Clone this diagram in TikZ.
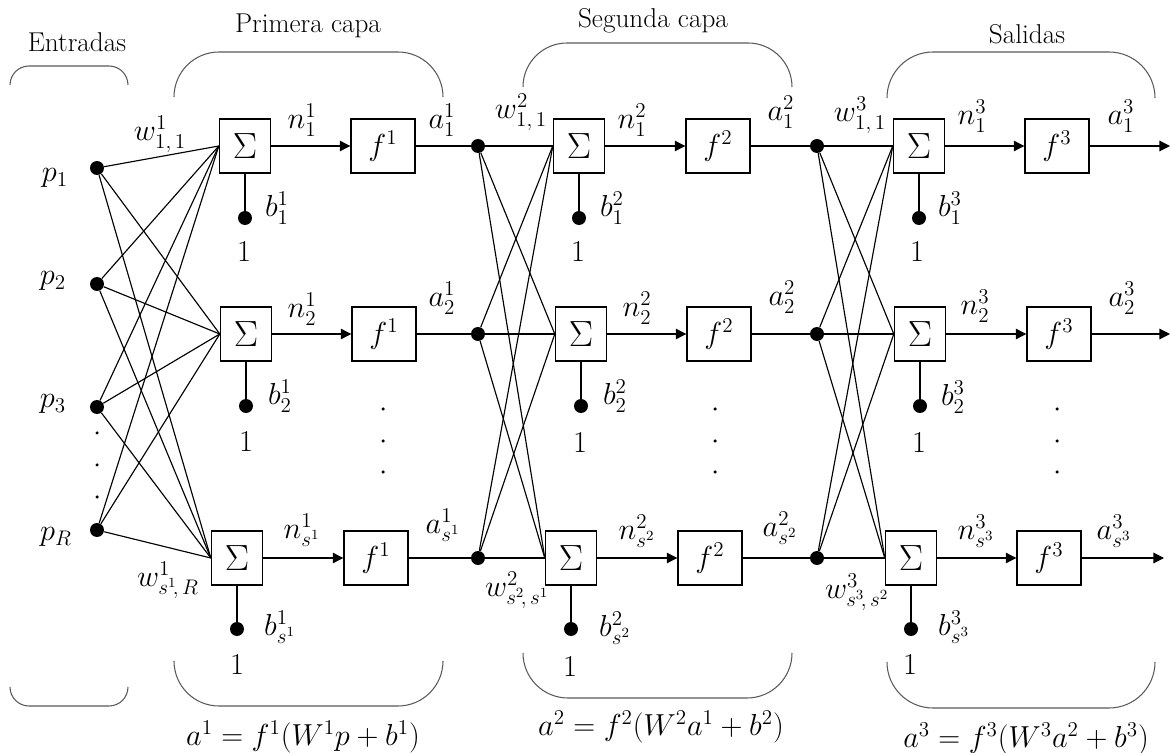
\documentclass[tikz,border=0pt]{standalone}
\usetikzlibrary{arrows.meta}
\begin{document}
\begin{tikzpicture}[x=0.02cm,y=-0.02cm,
 sumbox/.style={draw,line width=0.8pt,minimum width=1.02cm,minimum height=1.08cm,inner sep=0,font=\fontsize{21}{24}\selectfont},
 funcbox/.style={draw,line width=0.8pt,minimum width=1.28cm,minimum height=1.08cm,inner sep=0,font=\fontsize{17}{20}\selectfont},
 dot/.style={circle,fill=black,minimum size=0.28cm,inner sep=0},
 sdot/.style={circle,fill=black,minimum size=0.07cm,inner sep=0},
 lab/.style={inner sep=0,font=\fontsize{17}{20}\selectfont},
 ttl/.style={inner sep=0,font=\fontsize{15.5}{18}\selectfont},
 wire/.style={line width=0.65pt},
 arr/.style={line width=0.65pt,-{Triangle[length=6pt,width=6pt]}},
 brk/.style={draw=black!65,line width=0.6pt}]
\useasboundingbox (0,0) rectangle (1171,753);

% ---------- inputs
\node[dot] (P1) at (97,168) {};
\node[dot] (P2) at (97,284) {};
\node[dot] (P3) at (97,407) {};
\node[dot] (PR) at (97,530) {};
\node[sdot] (q1) at (97,433) {};
\node[sdot] (q2) at (97,465) {};
\node[sdot] (q3) at (97,497) {};

% ---------- layer 1
\node[sumbox] (S11) at (245,146) {$\Sigma$};
\node[sumbox] (S12) at (246,334) {$\Sigma$};
\node[sumbox] (S13) at (237,558) {$\Sigma$};
\node[funcbox] (F11) at (383,146) {$f^1$};
\node[funcbox] (F12) at (384,334) {$f^1$};
\node[funcbox] (F13) at (376,558) {$f^1$};
\node[dot] (B11) at (245,218) {};
\node[dot] (B12) at (246,406) {};
\node[dot] (B13) at (237,629) {};
\node[sdot] (e11) at (383,409) {};
\node[sdot] (e12) at (383,441) {};
\node[sdot] (e13) at (383,472) {};

% ---------- layer 2
\node[dot] (D21) at (478,146) {};
\node[dot] (D22) at (478,334) {};
\node[dot] (D23) at (478,558) {};
\node[sumbox] (S21) at (579,146) {$\Sigma$};
\node[sumbox] (S22) at (581,334) {$\Sigma$};
\node[sumbox] (S23) at (571,558) {$\Sigma$};
\node[funcbox] (F21) at (718,146) {$f^2$};
\node[funcbox] (F22) at (719,334) {$f^2$};
\node[funcbox] (F23) at (710,558) {$f^2$};
\node[dot] (B21) at (579,218) {};
\node[dot] (B22) at (581,406) {};
\node[dot] (B23) at (571,629) {};
\node[sdot] (e21) at (715,409) {};
\node[sdot] (e22) at (715,441) {};
\node[sdot] (e23) at (715,472) {};

% ---------- layer 3
\node[dot] (D31) at (817,146) {};
\node[dot] (D32) at (817,334) {};
\node[dot] (D33) at (817,558) {};
\node[sumbox] (S31) at (919,146) {$\Sigma$};
\node[sumbox] (S32) at (920,334) {$\Sigma$};
\node[sumbox] (S33) at (911,558) {$\Sigma$};
\node[funcbox] (F31) at (1057,146) {$f^3$};
\node[funcbox] (F32) at (1059,334) {$f^3$};
\node[funcbox] (F33) at (1049,558) {$f^3$};
\node[dot] (B31) at (919,218) {};
\node[dot] (B32) at (920,406) {};
\node[dot] (B33) at (911,629) {};
\node[sdot] (e31) at (1057,409) {};
\node[sdot] (e32) at (1057,441) {};
\node[sdot] (e33) at (1057,472) {};
\coordinate (O1) at (1170,146);
\coordinate (O2) at (1170,334);
\coordinate (O3) at (1164,558);

% ---------- connections
\foreach \p in {P1,P2,P3,PR}
  \foreach \s in {S11,S12,S13}
    \draw[wire] (\p) -- (\s.west);
\foreach \d in {D21,D22,D23}
  \foreach \s in {S21,S22,S23}
    \draw[wire] (\d) -- (\s.west);
\foreach \d in {D31,D32,D33}
  \foreach \s in {S31,S32,S33}
    \draw[wire] (\d) -- (\s.west);
\foreach \l in {1,2,3} {
  \foreach \r in {1,2,3} {
    \draw[arr] (S\l\r) -- (F\l\r);
    \draw[wire] (S\l\r) -- (B\l\r);
  }
}
\foreach \r in {1,2,3} {
  \draw[wire] (F1\r) -- (D2\r);
  \draw[wire] (F2\r) -- (D3\r);
}
\draw[arr] (F31) -- (O1);
\draw[arr] (F32) -- (O2);
\draw[arr] (F33) -- (O3);

% ---------- brackets
\draw[brk,rounded corners=0.38cm] (10,85) -- (10,66) -- (128,66) -- (128,85);
\draw[brk,rounded corners=0.38cm] (10,687) -- (10,706) -- (128,706) -- (128,687);
\draw[brk,rounded corners=0.9cm] (174,97) -- (174,52) -- (443,52) -- (443,97);
\draw[brk,rounded corners=0.9cm] (174,662) -- (174,706) -- (443,706) -- (443,662);
\draw[brk,rounded corners=0.88cm] (523,87) -- (523,43) -- (792,43) -- (792,87);
\draw[brk,rounded corners=0.9cm] (523,653) -- (523,698) -- (792,698) -- (792,653);
\draw[brk,rounded corners=0.92cm] (887,98) -- (887,52) -- (1155,52) -- (1155,98);
\draw[brk,rounded corners=0.92cm] (887,662) -- (887,708) -- (1155,708) -- (1155,662);

% ---------- titles
\node[ttl] (tE) at (77,42) {Entradas};
\node[ttl] (tP) at (308,26) {Primera capa};
\node[ttl] (tS) at (653,21) {Segunda capa};
\node[ttl] (tO) at (1027,34) {Salidas};

% ---------- labels, inputs
\node[lab] (lp1) at (55,178) {$p_1$};
\node[lab] (lp2) at (53,281) {$p_2$};
\node[lab] (lp3) at (53,404) {$p_3$};
\node[lab] (lpR) at (56,537) {$p_R$};

% ---------- labels, layer 1
\node[lab] (lw11) at (160,134) {$w^1_{1,\,1}$};
\node[lab] (lw1s) at (168,580) {$w^1_{s^1\!,\,R}$};
\node[lab] (ln11) at (302,120) {$n^1_1$};
\node[lab] (ln12) at (302,309) {$n^1_2$};
\node[lab] (ln13) at (302,530) {$n^1_{s^1}$};
\node[lab] (la11) at (442,120) {$a^1_1$};
\node[lab] (la12) at (442,298) {$a^1_2$};
\node[lab] (la13) at (443,525) {$a^1_{s^1}$};
\node[lab] (lb11) at (277,208) {$b^1_1$};
\node[lab] (lb12) at (280,396) {$b^1_2$};
\node[lab] (lb13) at (280,627) {$b^1_{s^1}$};
\node[lab] (lo11) at (244,252) {$1$};
\node[lab] (lo12) at (246,442) {$1$};
\node[lab] (lo13) at (237,665) {$1$};
\node[lab] (eq1) at (303,737) {$a^1=f^1(W^1p+b^1)$};

% ---------- labels, layer 2
\node[lab] (lw21) at (521,112) {$w^2_{1,\,1}$};
\node[lab] (lw2s) at (517,590) {$w^2_{s^2\!,\,s^1}$};
\node[lab] (ln21) at (632,120) {$n^2_1$};
\node[lab] (ln22) at (637,308) {$n^2_2$};
\node[lab] (ln23) at (637,531) {$n^2_{s^2}$};
\node[lab] (la21) at (781,112) {$a^2_1$};
\node[lab] (la22) at (782,297) {$a^2_2$};
\node[lab] (la23) at (780,528) {$a^2_{s^2}$};
\node[lab] (lb21) at (612,208) {$b^2_1$};
\node[lab] (lb22) at (615,396) {$b^2_2$};
\node[lab] (lb23) at (615,628) {$b^2_{s^2}$};
\node[lab] (lo21) at (578,252) {$1$};
\node[lab] (lo22) at (580,443) {$1$};
\node[lab] (lo23) at (570,667) {$1$};
\node[lab] (eq2) at (661,727) {$a^2=f^2(W^2a^1+b^2)$};

% ---------- labels, layer 3
\node[lab] (lw31) at (860,115) {$w^3_{1,\,1}$};
\node[lab] (lw3s) at (857,592) {$w^3_{s^3\!,\,s^2}$};
\node[lab] (ln31) at (972,116) {$n^3_1$};
\node[lab] (ln32) at (975,306) {$n^3_2$};
\node[lab] (ln33) at (976,531) {$n^3_{s^3}$};
\node[lab] (la31) at (1121,116) {$a^3_1$};
\node[lab] (la32) at (1122,298) {$a^3_2$};
\node[lab] (la33) at (1114,531) {$a^3_{s^3}$};
\node[lab] (lb31) at (950,208) {$b^3_1$};
\node[lab] (lb32) at (953,397) {$b^3_2$};
\node[lab] (lb33) at (954,627) {$b^3_{s^3}$};
\node[lab] (lo31) at (917,252) {$1$};
\node[lab] (lo32) at (919,443) {$1$};
\node[lab] (lo33) at (910,665) {$1$};
\node[lab] (eq3) at (1026,739) {$a^3=f^3(W^3a^2+b^3)$};
\end{tikzpicture}
\end{document}
